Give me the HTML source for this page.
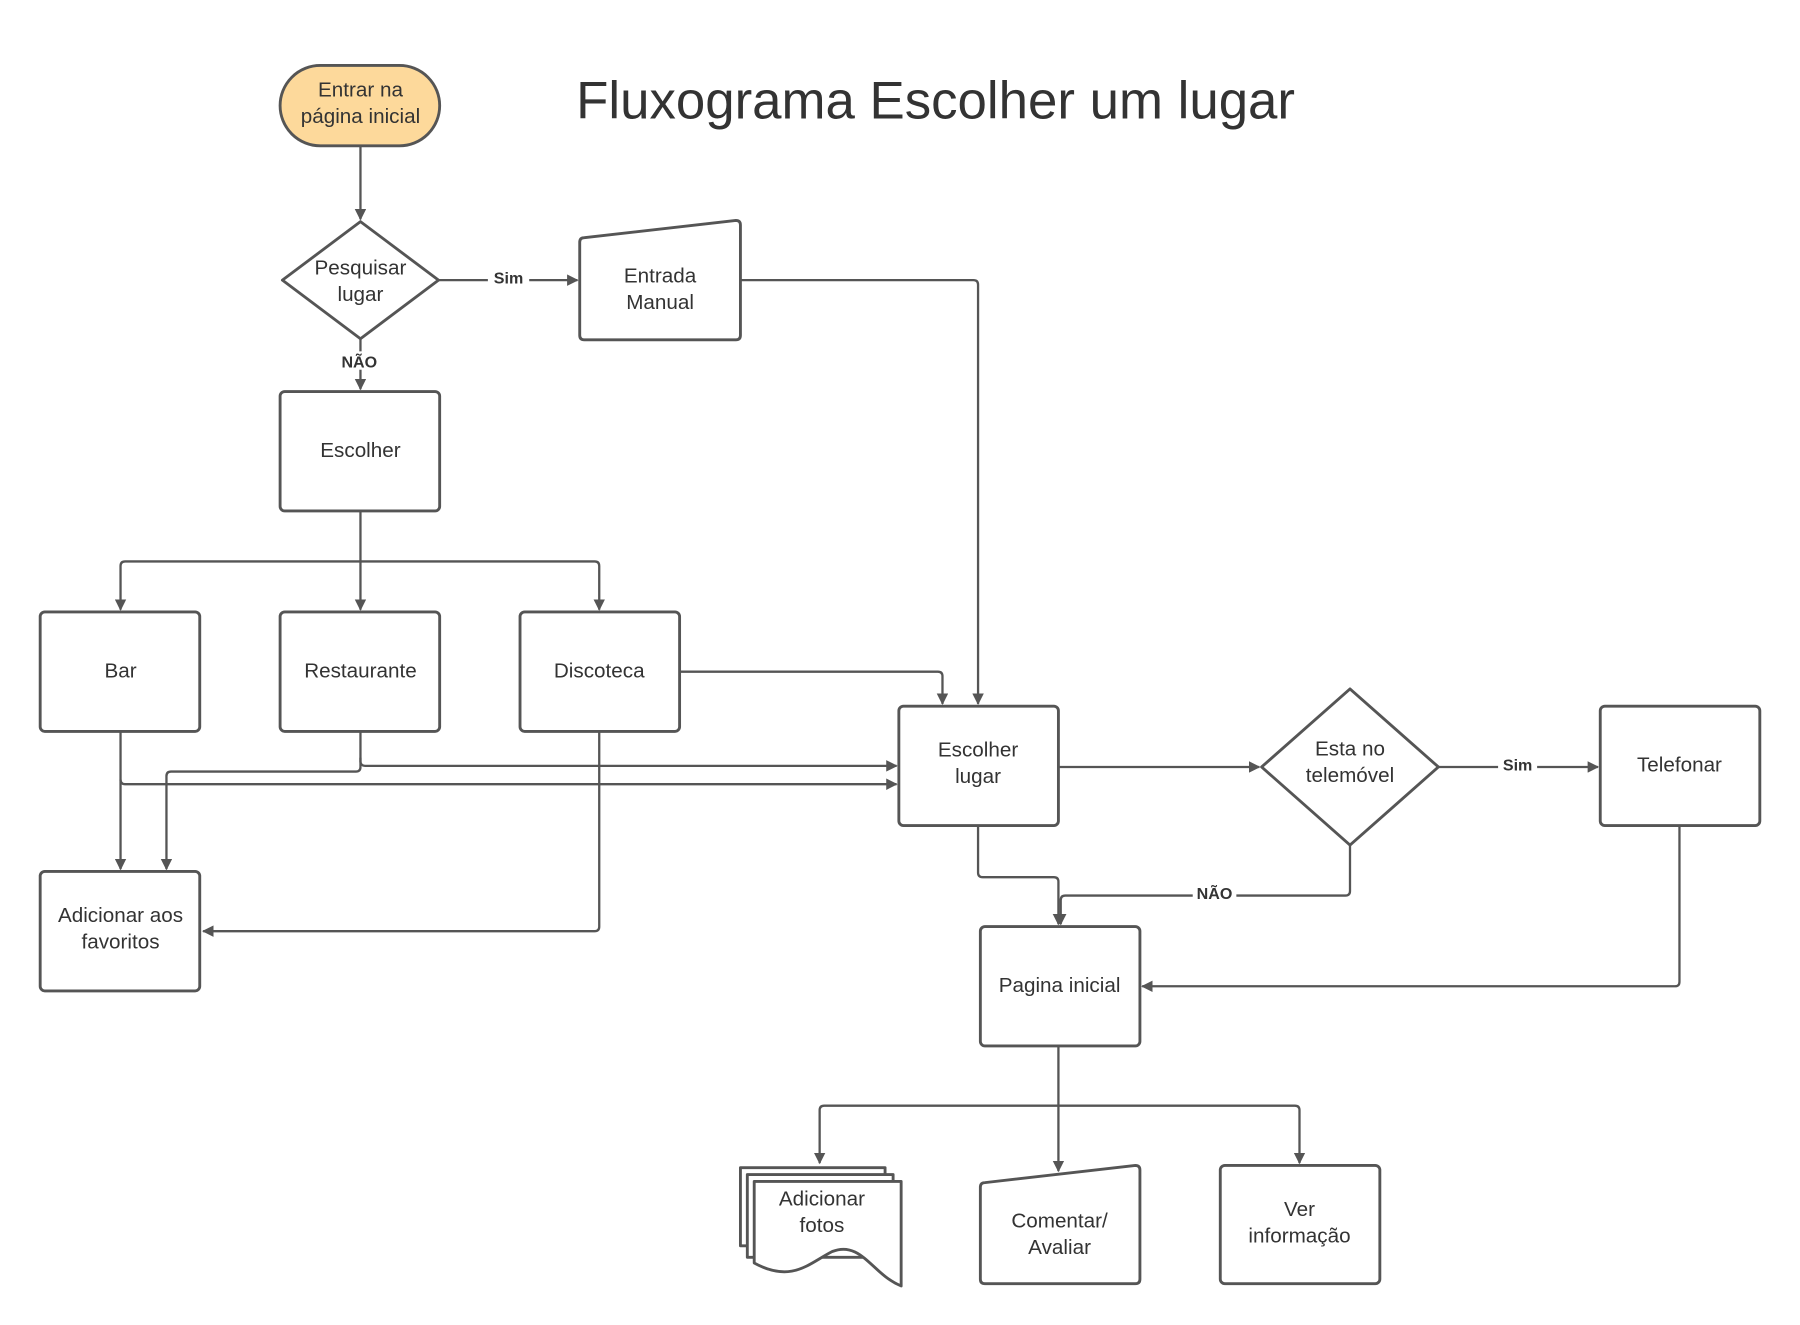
<!DOCTYPE html>
<html><head><meta charset="utf-8"><style>
html,body{margin:0;padding:0;background:#fff;}
svg{display:block}
text{font-family:"Liberation Sans",sans-serif;fill:#333;}
.n{font-size:18px;text-anchor:middle;}
.l{font-size:14px;font-weight:bold;text-anchor:middle;}
.s{fill:#fff;stroke:#555;stroke-width:2.5;}
.c{fill:none;stroke:#555;stroke-width:2;}
</style></head><body>
<svg width="1800" height="1325" viewBox="0 0 1568 1154" preserveAspectRatio="none" xmlns="http://www.w3.org/2000/svg">
<defs><marker id="a" markerWidth="10" markerHeight="10" refX="9" refY="5" orient="auto" markerUnits="userSpaceOnUse"><path d="M0,0 L10,5 L0,10 z" fill="#555"/></marker></defs>
<rect width="1568" height="1154" fill="#fff"/>
<text x="815" y="103" style="font-size:46px;text-anchor:middle">Fluxograma Escolher um lugar</text>

<g class="c" marker-end="url(#a)">
<path d="M314,127 V191"/>
<path d="M382,244 H503"/>
<path d="M314,295 V339"/>
<path d="M645,244 H848 Q852,244 852,248 V613"/>
<path d="M314,445 V489 H109 Q105,489 105,493 V531"/>
<path d="M314,489 V531"/>
<path d="M314,489 H518 Q522,489 522,493 V531"/>
<path d="M592,585 H817 Q821,585 821,589 V613"/>
<path d="M314,637 V663 Q314,667 318,667 H781"/>
<path d="M314,660 V668 Q314,672 310,672 H149 Q145,672 145,676 V757"/>
<path d="M105,637 V757"/>
<path d="M105,679 Q105,683 109,683 H781"/>
<path d="M522,637 V807 Q522,811 518,811 H177"/>
<path d="M922,668 H1097"/>
<path d="M1253,668 H1392"/>
<path d="M852,719 V760 Q852,764 856,764 H918 Q922,764 922,768 V805"/>
<path d="M1176,736 V776 Q1176,780 1172,780 H928 Q924,780 924,784 V805"/>
<path d="M1463,719 V855 Q1463,859 1459,859 H995"/>
<path d="M922,911 V1020"/>
<path d="M922,963 H718 Q714,963 714,967 V1013"/>
<path d="M922,963 H1128 Q1132,963 1132,967 V1013"/>
</g>
<rect x="425" y="234" width="36" height="16" fill="#fff"/><text class="l" x="443" y="247">Sim</text>
<rect x="295" y="306" width="38" height="16" fill="#fff"/><text class="l" x="313" y="320">NÃO</text>
<rect x="1305" y="658" width="34" height="16" fill="#fff"/><text class="l" x="1322" y="671">Sim</text>
<rect x="1039" y="770" width="38" height="16" fill="#fff"/><text class="l" x="1058" y="783">NÃO</text>

<rect x="244" y="57" width="139" height="70" rx="35" class="s" style="fill:#fdd99b"/>
<text class="n" x="314" y="84">Entrar na</text><text class="n" x="314" y="107">página inicial</text>

<path d="M314,193 L382,244 L314,295 L246,244 Z" class="s" stroke-linejoin="round"/>
<text class="n" x="314" y="239">Pesquisar</text><text class="n" x="314" y="262">lugar</text>

<path d="M509,207 L641,192 Q645,192 645,196 V292 Q645,296 641,296 H509 Q505,296 505,292 V211 Q505,207 509,207 Z" class="s"/>
<text class="n" x="575" y="246">Entrada</text><text class="n" x="575" y="269">Manual</text>

<rect x="244" y="341" width="139" height="104" rx="4" class="s"/><text class="n" x="314" y="398">Escolher</text>
<rect x="35" y="533" width="139" height="104" rx="4" class="s"/><text class="n" x="105" y="590">Bar</text>
<rect x="244" y="533" width="139" height="104" rx="4" class="s"/><text class="n" x="314" y="590">Restaurante</text>
<rect x="453" y="533" width="139" height="104" rx="4" class="s"/><text class="n" x="522" y="590">Discoteca</text>
<rect x="35" y="759" width="139" height="104" rx="4" class="s"/><text class="n" x="105" y="803">Adicionar aos</text><text class="n" x="105" y="826">favoritos</text>
<rect x="783" y="615" width="139" height="104" rx="4" class="s"/><text class="n" x="852" y="659">Escolher</text><text class="n" x="852" y="682">lugar</text>
<path d="M1176,600 L1253,668 L1176,736 L1099,668 Z" class="s" stroke-linejoin="round"/>
<text class="n" x="1176" y="658">Esta no</text><text class="n" x="1176" y="681">telemóvel</text>
<rect x="1394" y="615" width="139" height="104" rx="4" class="s"/><text class="n" x="1463" y="672">Telefonar</text>
<rect x="854" y="807" width="139" height="104" rx="4" class="s"/><text class="n" x="923" y="864">Pagina inicial</text>

<g class="s" stroke-linejoin="round">
<path d="M645,1017 H771 V1085 L645,1085 Z"/>
<path d="M651,1023 H778 V1095 L651,1095 Z"/>
<path d="M657,1029 H785 V1120 C760,1110 750,1080 725,1090 C705,1100 690,1118 657,1100 Z"/>
</g>
<text class="n" x="716" y="1050">Adicionar</text><text class="n" x="716" y="1073">fotos</text>

<path d="M858,1030 L989,1015 Q993,1015 993,1019 V1114 Q993,1118 989,1118 H858 Q854,1118 854,1114 V1034 Q854,1030 858,1030 Z" class="s"/>
<text class="n" x="923" y="1069">Comentar/</text><text class="n" x="923" y="1092">Avaliar</text>
<rect x="1063" y="1015" width="139" height="103" rx="4" class="s"/><text class="n" x="1132" y="1059">Ver</text><text class="n" x="1132" y="1082">informação</text>
</svg>
</body></html>
